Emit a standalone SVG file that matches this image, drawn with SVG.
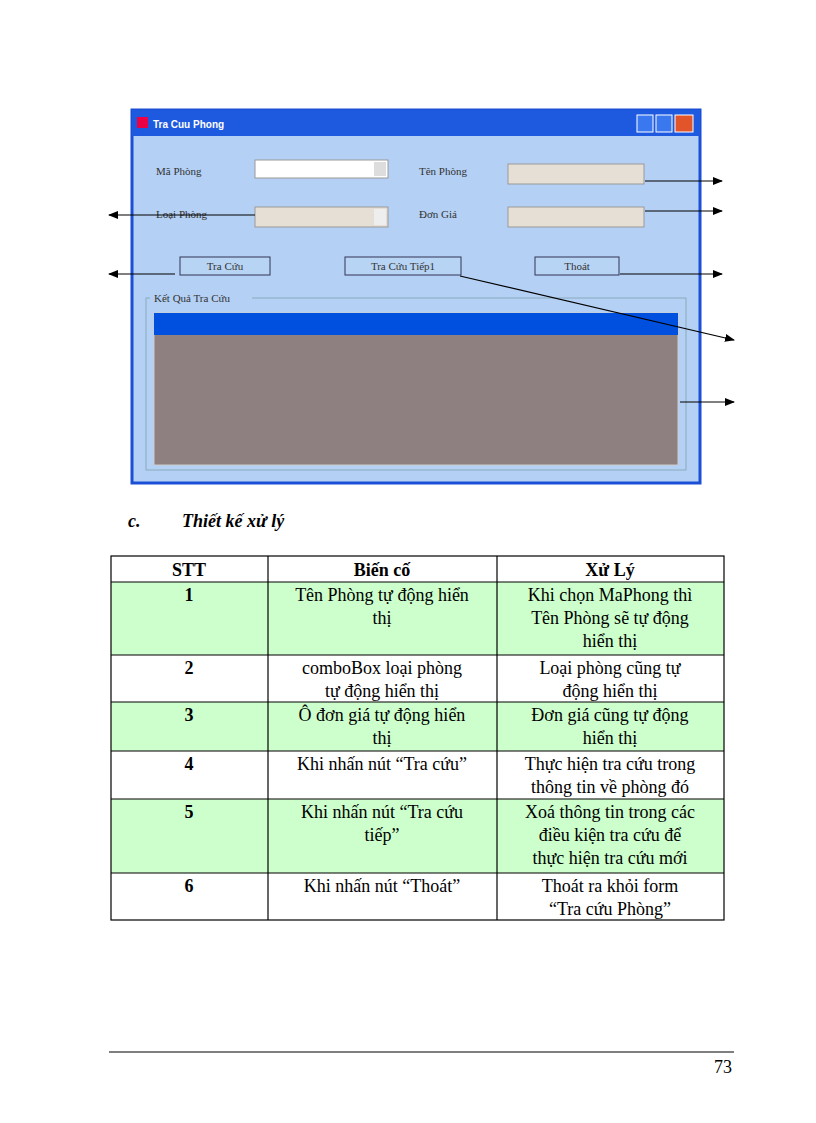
<svg xmlns="http://www.w3.org/2000/svg" width="816" height="1123" viewBox="0 0 816 1123">
<style>
.f{font-family:"Liberation Serif",serif;font-size:11px;fill:#333}
.t{font-family:"Liberation Serif",serif;font-size:18px;fill:#000;text-anchor:middle}
.b{font-weight:bold}
.c{stroke:#000;stroke-width:1.2;fill:none}
.box{fill:#e6dfd6;stroke:#999}
.btn{fill:#b8d4f4;stroke:#335}
</style>
<defs><marker id="a" markerWidth="10" markerHeight="8" refX="9" refY="4" orient="auto" markerUnits="userSpaceOnUse"><path d="M0,0L10,4L0,8z" fill="#000"/></marker></defs>
<g id="window">
<rect x="132" y="110" width="568" height="373" fill="#b4d0f4" stroke="#1a4fd6" stroke-width="3"/>
<rect x="132" y="110" width="568" height="26" fill="#1e5ae0"/>
<rect x="137" y="117" width="11" height="11" fill="#e04" />
<text x="153" y="128" font-family="Liberation Sans,sans-serif" font-size="10" font-weight="bold" fill="#fff">Tra Cuu Phong</text>
<rect x="637" y="115" width="16" height="17" fill="#3a78f0" stroke="#fff"/>
<rect x="656" y="115" width="16" height="17" fill="#3a78f0" stroke="#fff"/>
<rect x="675" y="115" width="18" height="17" fill="#e2542a" stroke="#fff"/>
<text x="156" y="175" class="f">Mã Phòng</text>
<rect x="255" y="160" width="133" height="18" fill="#fff" stroke="#999"/>
<rect x="374" y="162" width="12" height="14" fill="#ddd"/>
<text x="419" y="175" class="f">Tên Phòng</text>
<rect x="508" y="164" width="136" height="20" class="box"/>
<text x="156" y="218" class="f">Loại Phòng</text>
<rect x="255" y="207" width="133" height="20" class="box"/>
<rect x="374" y="209" width="12" height="16" fill="#eee"/>
<text x="419" y="218" class="f">Đơn Giá</text>
<rect x="508" y="207" width="136" height="20" class="box"/>
<rect x="180" y="257" width="90" height="18" class="btn"/>
<text x="225" y="270" class="f" text-anchor="middle">Tra Cứu</text>
<rect x="345" y="257" width="116" height="18" class="btn"/>
<text x="403" y="270" class="f" text-anchor="middle">Tra Cứu Tiếp1</text>
<rect x="535" y="257" width="84" height="18" class="btn"/>
<text x="577" y="270" class="f" text-anchor="middle">Thoát</text>
<rect x="146" y="298" width="540" height="172" fill="none" stroke="#8ab"/>
<rect x="150" y="293" width="102" height="10" fill="#b4d0f4"/>
<text x="154" y="302" class="f">Kết Quả Tra Cứu</text>
<rect x="154" y="313" width="524" height="152" fill="#8e7f80" stroke="#ccc"/>
<rect x="154" y="313" width="524" height="22" fill="#0050e0"/>
</g>
<g id="connectors" class="c">
<line x1="645" y1="181" x2="722" y2="181" marker-end="url(#a)"/>
<line x1="645" y1="211" x2="722" y2="211" marker-end="url(#a)"/>
<line x1="255" y1="215" x2="109" y2="215" marker-end="url(#a)"/>
<line x1="175" y1="274" x2="109" y2="274" marker-end="url(#a)"/>
<line x1="620" y1="274" x2="722" y2="274" marker-end="url(#a)"/>
<line x1="460" y1="276" x2="734" y2="340" marker-end="url(#a)"/>
<line x1="680" y1="402" x2="734" y2="402" marker-end="url(#a)"/>
</g>
<text x="128" y="527" font-family="Liberation Serif,serif" font-size="18" font-weight="bold" font-style="italic">c.</text>
<text x="182" y="527" font-family="Liberation Serif,serif" font-size="18" font-weight="bold" font-style="italic">Thiết kế xử lý</text>
<g id="table">
<rect x="111" y="582" width="613" height="73" fill="#ccffcc"/>
<rect x="111" y="702" width="613" height="49" fill="#ccffcc"/>
<rect x="111" y="799" width="613" height="74" fill="#ccffcc"/>
<g stroke="#000" stroke-width="1.2" fill="none">
<rect x="111" y="556" width="613" height="364"/>
<line x1="268" y1="556" x2="268" y2="920"/><line x1="497" y1="556" x2="497" y2="920"/>
<line x1="111" y1="582" x2="724" y2="582"/><line x1="111" y1="655" x2="724" y2="655"/>
<line x1="111" y1="702" x2="724" y2="702"/><line x1="111" y1="751" x2="724" y2="751"/>
<line x1="111" y1="799" x2="724" y2="799"/><line x1="111" y1="873" x2="724" y2="873"/>
</g>
<text x="189" y="576" class="t b">STT</text><text x="382" y="576" class="t b">Biến cố</text><text x="610" y="576" class="t b">Xử Lý</text>
<text x="189" y="601" class="t b">1</text>
<text x="382" y="601" class="t">Tên Phòng tự động hiển</text><text x="382" y="624" class="t">thị</text>
<text x="610" y="601" class="t">Khi chọn MaPhong thì</text><text x="610" y="624" class="t">Tên Phòng sẽ tự động</text><text x="610" y="647" class="t">hiển thị</text>
<text x="189" y="674" class="t b">2</text>
<text x="382" y="674" class="t">comboBox loại phòng</text><text x="382" y="697" class="t">tự động hiển thị</text>
<text x="610" y="674" class="t">Loại phòng cũng tự</text><text x="610" y="697" class="t">động hiển thị</text>
<text x="189" y="721" class="t b">3</text>
<text x="382" y="721" class="t">Ô đơn giá tự động hiển</text><text x="382" y="744" class="t">thị</text>
<text x="610" y="721" class="t">Đơn giá cũng tự động</text><text x="610" y="744" class="t">hiển thị</text>
<text x="189" y="770" class="t b">4</text>
<text x="382" y="770" class="t">Khi nhấn nút “Tra cứu”</text>
<text x="610" y="770" class="t">Thực hiện tra cứu trong</text><text x="610" y="793" class="t">thông tin về phòng đó</text>
<text x="189" y="818" class="t b">5</text>
<text x="382" y="818" class="t">Khi nhấn nút “Tra cứu</text><text x="382" y="841" class="t">tiếp”</text>
<text x="610" y="818" class="t">Xoá thông tin trong các</text><text x="610" y="841" class="t">điều kiện tra cứu để</text><text x="610" y="864" class="t">thực hiện tra cứu mới</text>
<text x="189" y="892" class="t b">6</text>
<text x="382" y="892" class="t">Khi nhấn nút “Thoát”</text>
<text x="610" y="892" class="t">Thoát ra khỏi  form</text><text x="610" y="915" class="t">“Tra cứu Phòng”</text>
</g>
<line x1="109" y1="1052" x2="734" y2="1052" stroke="#000" stroke-width="1.2"/>
<text x="732" y="1073" font-family="Liberation Serif,serif" font-size="18" text-anchor="end">73</text>
</svg>
